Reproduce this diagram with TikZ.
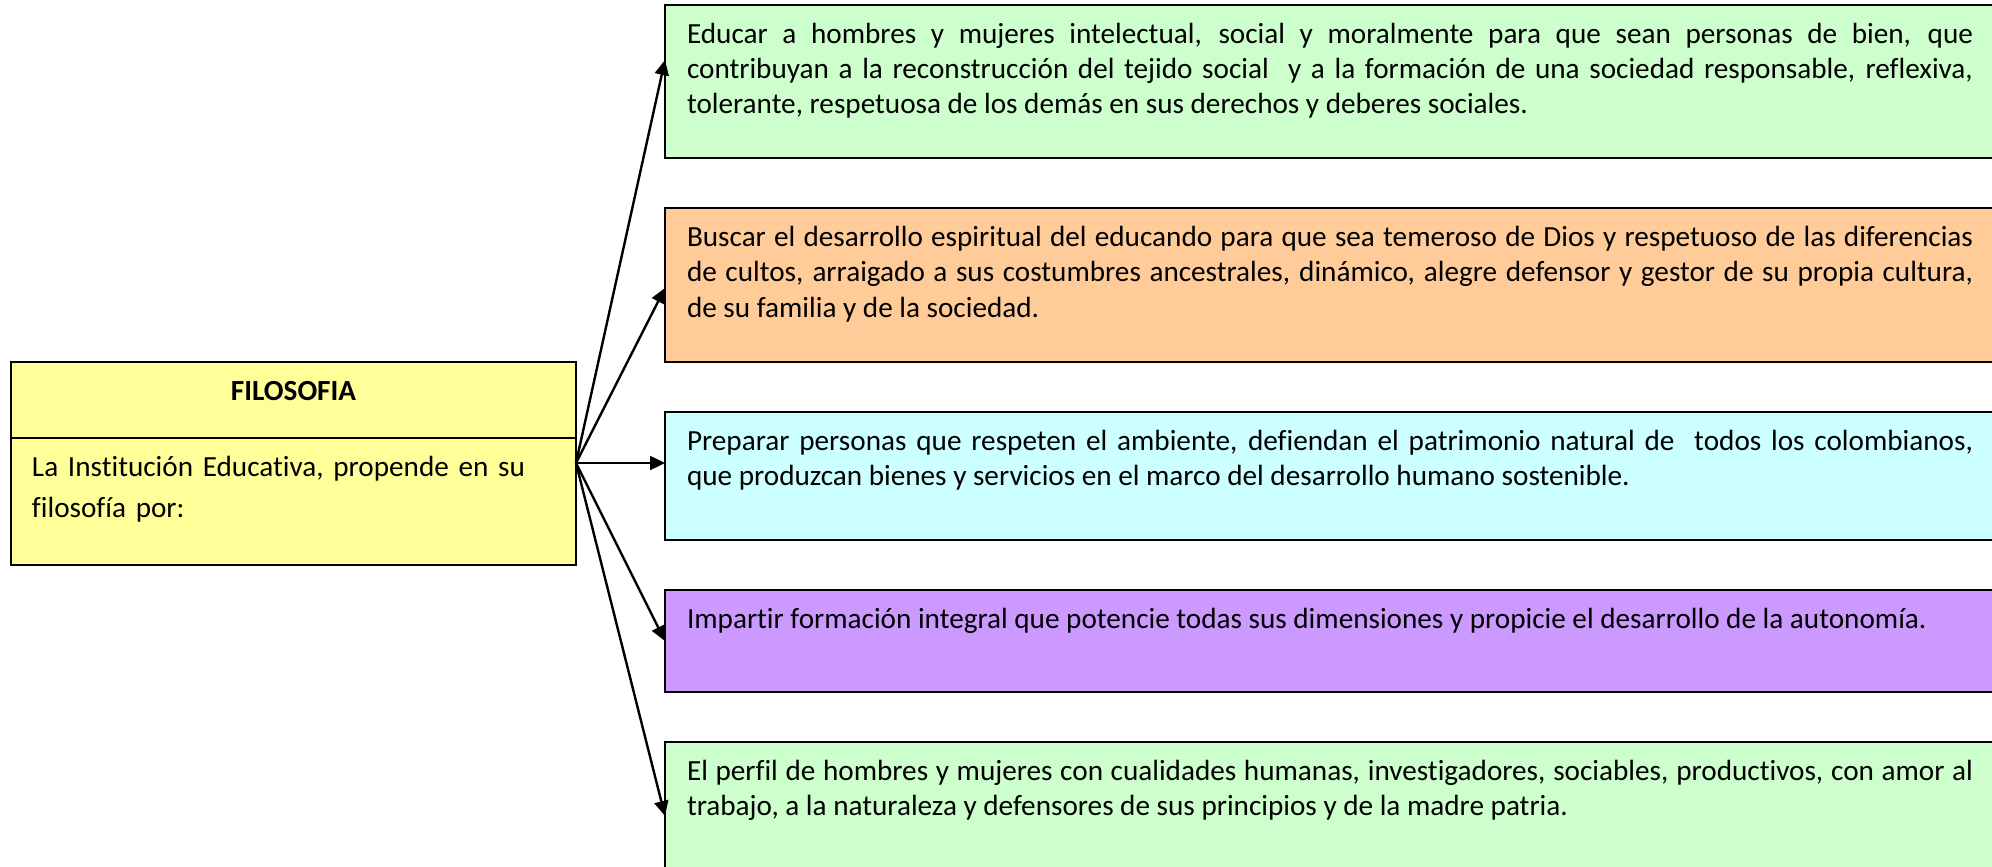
\documentclass[tikz,border=0pt]{standalone}
\usepackage{fontspec}
\setmainfont{Carlito}[Ligatures=NoCommon]
\usepackage{tikz}
\usetikzlibrary{arrows.meta,positioning,calc}
\definecolor{verde}{HTML}{CCFFCC}
\definecolor{naranja}{HTML}{FFCC99}
\definecolor{celeste}{HTML}{CCFFFF}
\definecolor{lila}{HTML}{CC99FF}
\definecolor{amarillo}{HTML}{FFFF99}
\newcommand{\textofont}{\fontsize{14.6pt}{17.75pt}\selectfont\hyphenpenalty=10000\exhyphenpenalty=10000}
\newcommand{\filofont}{\fontsize{14.6pt}{20.5pt}\selectfont}

\begin{document}
\begin{tikzpicture}[x=0.5pt, y=-0.5pt,
  caja/.style={draw=black, line width=1pt, outer sep=0pt, inner xsep=11pt, inner ysep=8pt,
    text height=11pt, text width=643pt, align=justify, font=\textofont},
  filo/.style={draw=black, line width=1pt, outer sep=0pt, fill=amarillo, inner xsep=10.5pt,
    inner ysep=8pt, text height=11pt, text width=261.5pt},
  flecha/.style={-{Triangle[length=7.5pt,width=7pt]}, line width=1.2pt}]
\clip (0,0) rectangle (1992,867);
\fill[white] (0,0) rectangle (1992,867);

% cajas de la derecha
\node[caja, fill=verde, anchor=north west, text depth=49.5pt] (educar) at (665,5)
  {Educar a hombres y mujeres intelectual, social y moralmente para que sean personas de bien, que\linebreak
   contribuyan a la reconstrucción del tejido social\ \ y a la formación de una sociedad responsable, reflexiva,\linebreak
   tolerante, respetuosa de los demás en sus derechos y deberes sociales.};
\node[caja, fill=naranja, text depth=50pt, below=25pt of educar] (buscar)
  {Buscar el desarrollo espiritual del educando para que sea temeroso de Dios y respetuoso de las diferencias\linebreak
   de cultos, arraigado a sus costumbres ancestrales, dinámico, alegre defensor y gestor de su propia cultura,\linebreak
   de su familia y de la sociedad.};
\node[caja, fill=celeste, text depth=37pt, below=25pt of buscar] (preparar)
  {Preparar personas que respeten el ambiente, defiendan el patrimonio natural de\ \ todos los colombianos,\linebreak
   que produzcan bienes y servicios en el marco del desarrollo humano sostenible.};
\node[caja, fill=lila, text depth=24pt, below=25pt of preparar] (impartir)
  {Impartir formación integral que potencie todas sus dimensiones y propicie el desarrollo de la autonomía.};
\node[caja, fill=verde, text depth=53pt, below=25pt of impartir] (perfil)
  {El perfil de hombres y mujeres con cualidades humanas, investigadores, sociables, productivos, con amor al\linebreak
   trabajo, a la naturaleza y defensores de sus principios y de la madre patria.};

% caja de la izquierda
\node[filo, anchor=north west, align=center, font=\filofont\bfseries, text depth=11pt] (titulo) at (11,362) {FILOSOFIA};
\node[filo, align=left, font=\filofont, text depth=36.5pt, below=0pt of titulo] (cuerpo)
  {La Institución Educativa, propende en su\\filosofía por:};

\coordinate (origen) at ([yshift=19.25pt]cuerpo.east);
\draw[flecha] (origen) -- ([yshift=10.75pt]educar.west);
\draw[flecha] (origen) -- ([yshift=-1.5pt]buscar.west);
\draw[flecha] (origen) -- (origen -| preparar.west);
\draw[flecha] (origen) -- (impartir.west);
\draw[flecha] (origen) -- ([yshift=3pt]perfil.west);
\end{tikzpicture}
\end{document}
